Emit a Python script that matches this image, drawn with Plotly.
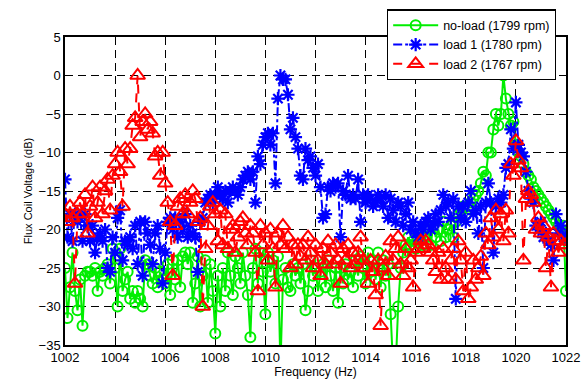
import plotly.graph_objects as go

# Frequency grid (Hz), 0.1 Hz resolution
freq = [round(1002 + 0.1 * i, 1) for i in range(201)]

no_load = [
    -25, -31.5, -27.5, -23, -28, -30.5, -26.5, -32.5, -26, -25.5,
    -25.5, -26, -25, -28, -25.5, -26, -25, -24.5, -27, -22.5,
    -25, -30, -22.5, -28, -26.5, -25.5, -29, -28, -29.5, -28,
    -29, -30, -24, -24.5, -26, -27, -25, -27.5, -25.5, -26.5,
    -27, -24.5, -28.5, -24, -26.5, -24, -27.5, -23.5, -23, -24.5,
    -23, -29.5, -27, -23.5, -30, -26, -24, -29.5, -24.5, -28,
    -33.5, -26, -30, -25, -28, -23, -26, -28.5, -23.5, -25,
    -27, -23, -26, -28.5, -34, -25, -22.5, -27, -23, -25.5,
    -31, -23, -25.5, -24, -27, -23.5, -38, -26.5, -25, -27.5,
    -28, -24.5, -26, -25, -27, -24.5, -30.5, -28, -24, -26,
    -25, -28, -25.5, -24.5, -27.5, -24, -26, -28, -25, -29.5,
    -25, -27, -24.5, -26.5, -25.5, -27.5, -24, -26, -23.5, -25,
    -27, -23, -25.5, -24, -26.5, -23, -27.5, -24, -26, -24.5,
    -31, -38, -38, -30, -25, -23, -22, -21, -22, -21.5,
    -22.5, -21, -20.5, -22, -21, -20, -22, -19.5, -21, -20,
    -21.5, -19, -21, -20, -19.5, -21, -19, -18, -17.5, -17,
    -18, -17, -16.5, -16, -15.5, -15, -14, -12.5, -13, -10,
    -10, -7, -5, -6.5, -5, 0, -3, -5, -6.5, -6,
    -9, -10, -10.5, -11.5, -12.5, -13, -13.5, -14.5, -15, -15.5,
    -16, -16.5, -17, -17.5, -18, -18.5, -19, -19.5, -20, -19.5,
    -28,
]

load1 = [
    -13.5, -21, -18, -21.5, -18, -19, -18.5, -21.5, -18, -19.5,
    -21.5, -19.5, -23, -21, -20.5, -21.5, -20, -25, -25.5, -21,
    -23, -18.5, -17.5, -24, -21.5, -22, -21, -22.5, -19.5, -24.5,
    -19, -26, -19, -20.5, -22, -24.5, -20.5, -19.5, -22.5, -27,
    -23, -19, -18.5, -20, -18.5, -21, -19, -20, -18, -21,
    -19.5, -20.5, -21, -25.5, -19, -18.5, -16.5, -16, -15.5, -16.5,
    -15.5, -14.5, -15.5, -16, -15, -16.5, -15, -14.5, -15, -15.5,
    -14.5, -13.5, -13, -12.5, -13.5, -12.5, -16.5, -10.5, -11.5, -9,
    -8, -7.5, -9, -7.5, -14, -3, 0, -0.5, -0.5, -2.5,
    -7, -5.5, -8, -9.5, -13, -13.5, -9.5, -11, -10.5, -12,
    -13, -11.5, -14.5, -18.5, -18, -14.5, -15, -14, -14.5, -14,
    -21, -15, -15.5, -13, -16, -15.5, -16, -13.5, -19, -15.5,
    -16.5, -15.5, -16, -17, -16.5, -15.5, -16, -17, -15.5, -18.5,
    -16, -17.5, -19, -16.5, -17, -19.5, -18, -16.5, -20, -19,
    -20.5, -21, -19.5, -20, -19, -18.5, -20, -19.5, -18, -19,
    -17.5, -15.5, -17, -16.5, -18.5, -16, -29, -17, -18.5, -17,
    -19, -16.5, -15, -18, -17.5, -20.5, -17, -25, -16.5, -14,
    -16.5, -23, -17, -16, -16.5, -15.5, -12, -11.5, -7, -9.5,
    -3.5, -9, -10, -10.5, -12.5, -15, -16, -16.5, -19.5, -20,
    -19, -21, -20.5, -21.5, -22, -24, -18, -20.5, -19.5, -21,
    -21,
]

load2 = [
    -18, -19, -17, -18.5, -27, -18, -16.5, -18, -15.5, -20.5,
    -17, -14.5, -18.5, -16.5, -14.5, -18, -15, -13.5, -17.5, -13,
    -11.5, -10, -12.5, -17, -9.5, -11.5, -9.5, -6.5, -5.5, 0,
    -8, -6, -5, -7, -6, -7.5, -10.5, -10, -13, -10,
    -14, -16.5, -19, -26, -19.5, -17, -16, -18, -15.5, -18,
    -16.5, -15, -16, -19, -18.5, -30, -22.5, -19.5, -17, -16.5,
    -18, -21.5, -17.5, -22, -18, -22.5, -20, -19.5, -23, -21,
    -19, -18.5, -20.5, -22, -19.5, -20.5, -23, -28, -19.5, -22,
    -20.5, -24, -20, -22.5, -27.5, -20.5, -22, -19.5, -22.5, -21,
    -25, -22, -24.5, -22, -23.5, -22, -24, -21, -23, -25,
    -22, -24, -26, -22.5, -24.5, -21.5, -23, -24.5, -22, -24,
    -27, -22.5, -24, -22, -25, -23, -24.5, -23, -21, -24,
    -25, -27, -24, -25.5, -28.5, -24, -32.5, -25, -23.5, -26,
    -21.5, -24, -22.5, -21, -24.5, -26, -22.5, -25, -24, -27.5,
    -23, -22.5, -21.5, -22.5, -21.5, -22, -23, -24, -25.5, -23,
    -26.5, -22.5, -25, -26.5, -24, -22.5, -26.5, -21.5, -24, -28,
    -23, -29, -27.5, -24, -26.5, -25, -23.5, -26, -20.5, -22,
    -18.5, -21, -17.5, -20, -18, -21.5, -17.5, -20.5, -11.5, -13,
    -8.5, -11, -12, -24, -16, -15, -15.5, -16.5, -20, -18.5,
    -20.5, -19.5, -25, -21, -27.5, -20.5, -21.5, -23, -21.5, -22,
    -22,
]

x_ticks = [1002, 1004, 1006, 1008, 1010, 1012, 1014, 1016, 1018, 1020, 1022]
y_ticks = [5, 0, -5, -10, -15, -20, -25, -30, -35]

fig = go.Figure()
fig.add_trace(go.Scatter(
    x=freq, y=no_load, mode="lines+markers", name="no-load (1799 rpm)",
    line=dict(color="#00ee00", width=2, dash="solid"),
    marker=dict(symbol="circle-open", size=10, color="#00ee00", line=dict(width=2, color="#00ee00")),
))
fig.add_trace(go.Scatter(
    x=freq, y=load1, mode="lines+markers", name="load 1 (1780 rpm)",
    line=dict(color="#0000ff", width=2, dash="dashdot"),
    marker=dict(symbol="asterisk-open", size=11, color="#0000ff", line=dict(width=2.2, color="#0000ff")),
))
fig.add_trace(go.Scatter(
    x=freq, y=load2, mode="lines+markers", name="load 2 (1767 rpm)",
    line=dict(color="#ff0000", width=2, dash="dash"),
    marker=dict(symbol="triangle-up-open", size=13, color="#ff0000", line=dict(width=2, color="#ff0000")),
))

axis_common = dict(
    showline=True, linecolor="black", linewidth=1.5, mirror=True,
    ticks="inside", ticklen=5, tickcolor="black",
    showgrid=True, gridcolor="black", gridwidth=1, griddash="8px,5px",
    zeroline=False, tickfont=dict(family="Liberation Sans, Arial", size=13, color="black"),
)

fig.update_layout(
    width=584, height=379,
    margin=dict(l=65, r=18, t=37, b=34, autoexpand=False),
    paper_bgcolor="white", plot_bgcolor="white",
    font=dict(family="Liberation Sans, Arial", size=12, color="black"),
    xaxis=dict(range=[1002, 1022], tickvals=x_ticks,
               title=dict(text="Frequency (Hz)", font=dict(size=12), standoff=1), **axis_common),
    yaxis=dict(range=[-35, 5], tickvals=y_ticks,
               title=dict(text="Flux Coil Voltage (dB)", font=dict(size=11), standoff=4), **axis_common),
    legend=dict(xref="container", yref="container", x=0.952, y=0.975,
                xanchor="right", yanchor="top",
                bgcolor="white", bordercolor="black", borderwidth=1.2,
                font=dict(size=12.5), tracegroupgap=0, itemwidth=45),
    showlegend=True,
)

fig.write_html("out.html")
